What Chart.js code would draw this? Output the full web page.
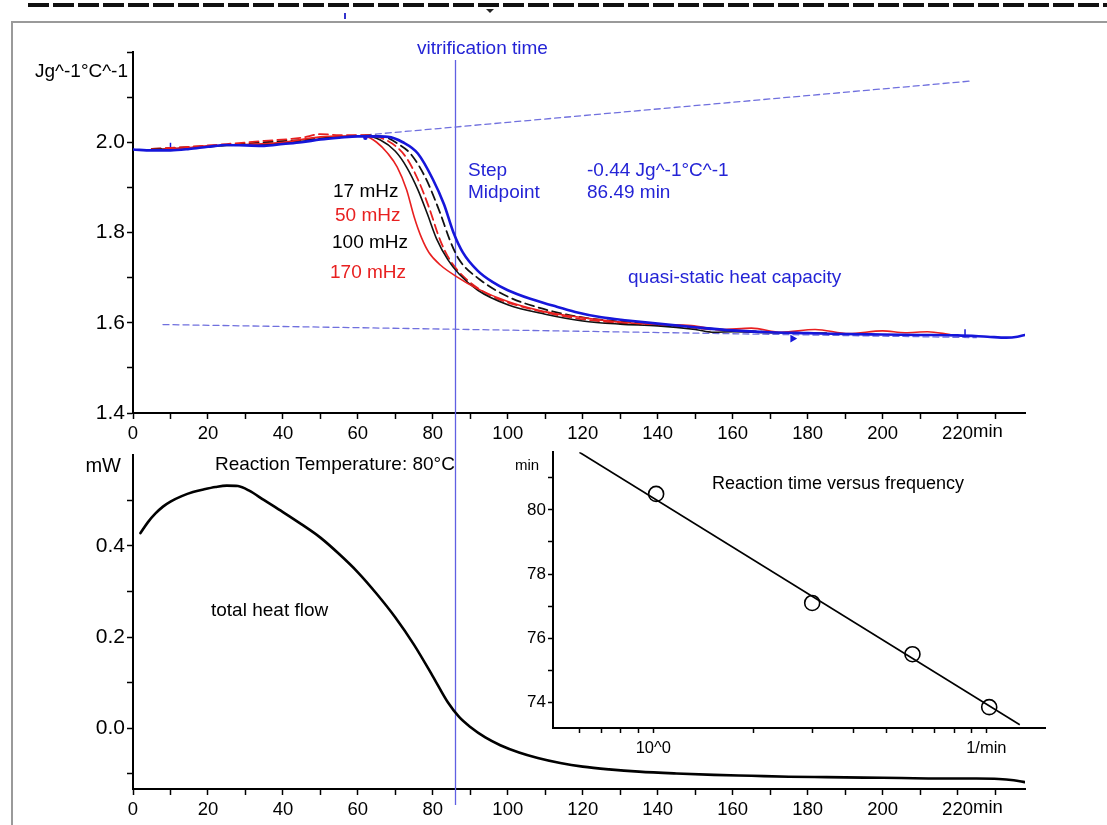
<!DOCTYPE html>
<html lang="en">
<head>
<meta charset="UTF-8">
<title>Vitrification time and heat capacity</title>
<script src="https://cdn.jsdelivr.net/npm/chart.js"></script>
<style>
  body { margin: 0; background: #fff; }
  #page { position: relative; width: 1107px; height: 825px; overflow: hidden; background: #fff; }
  #page canvas { position: absolute; }
  .dash { position: absolute; left: 28px; right: 0; top: 3px; height: 4px;
          background: repeating-linear-gradient(90deg, #111 0 21px, transparent 21px 25px); }
  .frame-top { position: absolute; left: 12px; right: 0; top: 21px; border-top: 2px solid #9a9a9a; }
  .frame-left { position: absolute; left: 11px; top: 21px; bottom: 0; border-left: 2px solid #9a9a9a; }
  .tick-blue { position: absolute; left: 344px; top: 13px; width: 2px; height: 6px; background: #3333cc; }
  .tri { position: absolute; left: 486px; top: 9px; width: 0; height: 0;
         border-left: 4px solid transparent; border-right: 4px solid transparent; border-top: 4px solid #222; }
</style>
</head>
<body>
<div id="page">
  <div class="dash"></div>
  <div class="frame-top"></div>
  <div class="frame-left"></div>
  <div class="tick-blue"></div>
  <div class="tri"></div>
  <canvas id="cpChart" width="1107" height="440" style="left:0;top:0"></canvas>
  <canvas id="flowChart" width="1107" height="385" style="left:0;top:440px"></canvas>
  <canvas id="insetChart" width="600" height="330" style="left:480px;top:440px"></canvas>
</div>

<script>
// ---- top panel: heat capacity (J/g/°C) vs time (min)
const tQuasi  = [0, 5, 10, 15, 20, 25, 30, 35, 40, 45, 50, 55, 60, 64, 68, 72, 76, 80, 83, 85.5, 88, 92, 96, 100, 106, 112, 118, 125, 132, 140, 150, 160, 170, 180, 190, 200, 210, 220, 228, 233, 236, 238];
const cpQuasi = [1.984, 1.982, 1.982, 1.985, 1.990, 1.994, 1.993, 1.992, 1.996, 2.000, 2.006, 2.010, 2.013, 2.013, 2.012, 2.000, 1.975, 1.918, 1.862, 1.800, 1.756, 1.715, 1.690, 1.672, 1.653, 1.638, 1.624, 1.612, 1.605, 1.598, 1.590, 1.583, 1.579, 1.577, 1.575, 1.574, 1.573, 1.572, 1.569, 1.567, 1.569, 1.573];

const t17  = [5, 15, 25, 35, 45, 55, 62, 67, 71, 74, 78, 82, 84.5, 87, 92.5, 100, 108.5, 119, 128, 138, 148, 158, 168];
const cp17 = [1.985, 1.989, 1.994, 2.000, 2.005, 2.012, 2.015, 2.012, 1.995, 1.975, 1.922, 1.842, 1.784, 1.740, 1.696, 1.658, 1.633, 1.613, 1.604, 1.598, 1.592, 1.584, 1.580];

const t50  = [5, 15, 25, 35, 45, 50, 55, 62, 66, 70, 73, 76, 79, 82, 84.5, 89, 96, 105, 116, 125, 135, 145, 155, 165];
const cp50 = [1.985, 1.990, 1.996, 2.003, 2.010, 2.018, 2.016, 2.016, 2.010, 1.992, 1.965, 1.918, 1.855, 1.782, 1.740, 1.696, 1.658, 1.633, 1.613, 1.603, 1.597, 1.592, 1.585, 1.580];

const t100  = [5, 15, 25, 35, 45, 55, 62, 66, 70, 73, 76, 78.5, 81, 84, 87, 92, 100, 110, 120, 130, 140, 150, 155, 160, 170, 185];
const cp100 = [1.984, 1.987, 1.993, 1.995, 2.002, 2.012, 2.014, 2.005, 1.980, 1.945, 1.895, 1.842, 1.786, 1.740, 1.708, 1.672, 1.640, 1.619, 1.604, 1.597, 1.593, 1.585, 1.579, 1.580, 1.578, 1.577];

const t170  = [8, 15, 20, 30, 40, 50, 56, 62, 65, 68, 70.5, 73, 75, 77, 79, 82, 86, 92, 100, 108, 115, 124, 132, 140, 149, 157, 165, 173, 182, 191, 200, 206, 212, 218];
const cp170 = [1.985, 1.988, 1.992, 1.995, 2.000, 2.012, 2.014, 2.013, 2.000, 1.975, 1.945, 1.895, 1.835, 1.788, 1.755, 1.728, 1.704, 1.675, 1.647, 1.628, 1.617, 1.607, 1.600, 1.596, 1.594, 1.585, 1.588, 1.579, 1.585, 1.576, 1.582, 1.578, 1.580, 1.574];

const baseUpperT = [62, 224];
const baseUpperCp = [2.016, 2.136];
const baseLowerT = [8, 225];
const baseLowerCp = [1.596, 1.567];
const markT = [10, 62, 176, 222];
const markCp = [1.990, 2.010, 1.565, 1.577];

const vitrificationTime = 85.8;
const timeTicks = [0, 10, 20, 30, 40, 50, 60, 70, 80, 90, 100, 110, 120, 130, 140, 150, 160, 170, 180, 190, 200, 210, 220, 230];
const cpTicks = [1.4, 1.5, 1.6, 1.7, 1.8, 1.9, 2.0, 2.1, 2.2];
const cpLabels = ['1.4', '', '1.6', '', '1.8', '', '2.0', '', ''];

// ---- bottom panel: total heat flow (mW)
const tFlow = [2, 4, 6, 8, 10, 13, 16, 19, 22, 25, 28, 31, 35, 40, 45, 50, 55, 60, 65, 70, 75, 80, 84, 87, 90, 94, 98, 103, 108, 114, 120, 127, 135, 145, 155, 165, 175, 185, 195, 205, 215, 225, 231, 235, 238];
const heatFlow = [0.428, 0.452, 0.471, 0.486, 0.497, 0.509, 0.518, 0.524, 0.529, 0.532, 0.531, 0.521, 0.500, 0.474, 0.447, 0.418, 0.382, 0.342, 0.295, 0.243, 0.183, 0.114, 0.057, 0.025, 0.003, -0.020, -0.037, -0.053, -0.065, -0.076, -0.084, -0.090, -0.095, -0.099, -0.102, -0.104, -0.106, -0.107, -0.108, -0.109, -0.110, -0.110, -0.111, -0.114, -0.118];
const flowTicks = [-0.1, 0, 0.1, 0.2, 0.3, 0.4, 0.5];
const flowLabels = ['', '0.0', '', '0.2', '', '0.4', ''];

// ---- inset: reaction time vs frequency
const freq = [1.02, 3.0, 6.0, 10.2];
const reactTime = [80.5, 77.1, 75.5, 73.85];
const fitFreq = [0.6, 12.6];
const fitTime = [81.8, 73.3];
const freqTicks = [0.6, 0.7, 0.8, 0.9, 1, 2, 3, 4, 5, 6, 7, 8, 9, 10];
const reactTicks = [74, 75, 76, 77, 78, 79, 80, 81];

const BLUE = 'rgb(22,22,218)';
const RED = 'rgb(232,32,32)';
const TXT_BLUE = 'rgb(36,36,214)';
const SANS = "'Liberation Sans', Arial, sans-serif";

const pts = (xs, ys) => xs.map((x, i) => ({ x: x, y: ys[i] }));

function line(data, color, width, dash) {
  return {
    type: 'line', data: data, borderColor: color, borderWidth: width,
    borderDash: dash || [], pointRadius: 0, fill: false,
    cubicInterpolationMode: 'monotone', borderJoinStyle: 'round', borderCapStyle: 'round'
  };
}

function axis(size, tickLen, pad) {
  return {
    border: { display: true, color: '#000', width: 2 },
    grid: { display: true, drawOnChartArea: false, drawTicks: true, tickLength: tickLen, tickWidth: 1.5, tickColor: '#000' },
    ticks: { color: '#000', font: { family: SANS, size: size }, padding: pad, autoSkip: false, maxRotation: 0 }
  };
}

function notes(items) {
  return {
    id: 'notes',
    afterDraw(chart) {
      const ctx = chart.ctx;
      ctx.save();
      items.forEach(it => {
        ctx.font = (it.size || 19) + 'px ' + SANS;
        ctx.fillStyle = it.color || '#000';
        ctx.textAlign = it.align || 'left';
        ctx.textBaseline = 'alphabetic';
        ctx.fillText(it.text, it.x, it.y);
      });
      ctx.restore();
    }
  };
}

function vline(yFrom, yTo) {
  return {
    id: 'vline',
    beforeDatasetsDraw(chart) {
      const x = Math.round(chart.scales.x.getPixelForValue(vitrificationTime)) + 0.5;
      const ctx = chart.ctx;
      ctx.save();
      ctx.strokeStyle = 'rgb(96,96,226)';
      ctx.lineWidth = 1.3;
      ctx.beginPath();
      ctx.moveTo(x, yFrom);
      ctx.lineTo(x, yTo === null ? chart.height : yTo);
      ctx.stroke();
      ctx.restore();
    }
  };
}

// "min" written right after the last labelled time tick
const X_TICK_SIZE = 18.5;
const X_TICK_PAD = 4;
const minUnit = {
  id: 'minUnit',
  afterDraw(chart) {
    const s = chart.scales.x;
    const ctx = chart.ctx;
    ctx.save();
    ctx.font = X_TICK_SIZE + 'px ' + SANS;
    const px = s.getPixelForValue(220) + ctx.measureText('220').width / 2;
    ctx.fillStyle = '#000';
    ctx.textAlign = 'left';
    ctx.textBaseline = 'top';
    ctx.fillText('min', px, s.top + 6 + X_TICK_PAD);
    ctx.restore();
  }
};

function timeAxis() {
  const a = axis(X_TICK_SIZE, 6, X_TICK_PAD);
  a.type = 'linear';
  a.min = 0;
  a.max = 238;
  a.afterBuildTicks = s => { s.ticks = timeTicks.map(v => ({ value: v })); };
  a.ticks.callback = v => (v % 20 === 0 && v <= 220) ? String(v) : '';
  return a;
}

// ---------- top chart
const cpX = timeAxis();
cpX.afterFit = s => { s.height = 27; };
const cpY = axis(21, 6, 2);
Object.assign(cpY, {
  type: 'linear', min: 1.4, max: 2.2,
  afterBuildTicks: s => { s.ticks = cpTicks.map(v => ({ value: v })); },
  afterFit: s => { s.width = 133; }
});
cpY.ticks.callback = (v, i) => cpLabels[i];

new Chart(document.getElementById('cpChart'), {
  type: 'line',
  data: {
    datasets: [
      line(pts(tQuasi, cpQuasi), BLUE, 2.6),
      line(pts(t170, cp170), RED, 1.6),
      line(pts(t100, cp100), '#111', 1.6),
      line(pts(t50, cp50), RED, 1.8, [9, 5]),
      line(pts(t17, cp17), '#111', 1.8, [9, 5]),
      {
        type: 'scatter', data: pts(markT, markCp), borderColor: BLUE, backgroundColor: BLUE,
        pointStyle: ['line', 'circle', 'triangle', 'line'], pointRotation: [90, 0, 90, 90],
        pointRadius: [4, 1.5, 3, 4], borderWidth: 1.5
      },
      line(pts(baseUpperT, baseUpperCp), 'rgb(112,112,222)', 1.3, [6, 4]),
      line(pts(baseLowerT, baseLowerCp), 'rgb(112,112,222)', 1.3, [6, 4])
    ]
  },
  options: {
    responsive: false, animation: false, devicePixelRatio: 1,
    layout: { padding: { top: 52, right: 82, left: 0, bottom: 0 } },
    plugins: { legend: { display: false }, tooltip: { enabled: false } },
    scales: { x: cpX, y: cpY }
  },
  plugins: [vline(60, null), minUnit, notes([
    { text: 'vitrification time', x: 417, y: 54, color: TXT_BLUE },
    { text: 'Jg^-1°C^-1', x: 35, y: 77 },
    { text: 'Step', x: 468, y: 176, color: TXT_BLUE },
    { text: 'Midpoint', x: 468, y: 198, color: TXT_BLUE },
    { text: '-0.44 Jg^-1°C^-1', x: 587, y: 176, color: TXT_BLUE },
    { text: '86.49 min', x: 587, y: 198, color: TXT_BLUE },
    { text: '17 mHz', x: 333, y: 197 },
    { text: '50 mHz', x: 335, y: 221, color: RED },
    { text: '100 mHz', x: 332, y: 248 },
    { text: '170 mHz', x: 330, y: 278, color: RED },
    { text: 'quasi-static heat capacity', x: 628, y: 283, color: TXT_BLUE }
  ])]
});

// ---------- bottom chart
const flowX = timeAxis();
flowX.afterFit = s => { s.height = 36; };
const flowY = axis(21, 6, 2);
Object.assign(flowY, {
  type: 'linear', min: -0.133, max: 0.6,
  afterBuildTicks: s => { s.ticks = flowTicks.map(v => ({ value: v })); },
  afterFit: s => { s.width = 133; }
});
flowY.ticks.callback = (v, i) => flowLabels[i];

new Chart(document.getElementById('flowChart'), {
  type: 'line',
  data: { datasets: [line(pts(tFlow, heatFlow), '#000', 2.6)] },
  options: {
    responsive: false, animation: false, devicePixelRatio: 1,
    layout: { padding: { top: 10, right: 82, left: 0, bottom: 0 } },
    plugins: { legend: { display: false }, tooltip: { enabled: false } },
    scales: { x: flowX, y: flowY }
  },
  plugins: [vline(0, 365), minUnit, notes([
    { text: 'mW', x: 121, y: 32, align: 'right', size: 20 },
    { text: 'Reaction Temperature: 80°C', x: 215, y: 30 },
    { text: 'total heat flow', x: 211, y: 176 }
  ])]
});

// ---------- inset chart
const inX = axis(16.5, 5, 6);
Object.assign(inX, {
  type: 'logarithmic', min: 0.5, max: 15,
  afterBuildTicks: s => { s.ticks = freqTicks.map(v => ({ value: v })); },
  afterFit: s => { s.height = 42; }
});
inX.ticks.callback = v => v === 1 ? '10^0' : (v === 10 ? '1/min' : '');
const inY = axis(17, 5, 2);
Object.assign(inY, {
  type: 'linear', min: 73.2, max: 81.8,
  afterBuildTicks: s => { s.ticks = reactTicks.map(v => ({ value: v })); },
  afterFit: s => { s.width = 73; }
});
inY.ticks.callback = v => v % 2 === 0 ? String(v) : '';

new Chart(document.getElementById('insetChart'), {
  type: 'scatter',
  data: {
    datasets: [
      {
        type: 'scatter', data: pts(freq, reactTime), pointStyle: 'circle', pointRadius: 7.5,
        borderColor: '#000', borderWidth: 1.6, backgroundColor: 'rgba(0,0,0,0)'
      },
      { type: 'line', data: pts(fitFreq, fitTime), borderColor: '#000', borderWidth: 1.6, pointRadius: 0, tension: 0 }
    ]
  },
  options: {
    responsive: false, animation: false, devicePixelRatio: 1,
    layout: { padding: { top: 12, right: 35, left: 0, bottom: 0 } },
    plugins: { legend: { display: false }, tooltip: { enabled: false } },
    scales: { x: inX, y: inY }
  },
  plugins: [notes([
    { text: 'min', x: 35, y: 30, size: 15 },
    { text: 'Reaction time versus frequency', x: 232, y: 49, size: 18 }
  ])]
});
</script>
</body>
</html>
